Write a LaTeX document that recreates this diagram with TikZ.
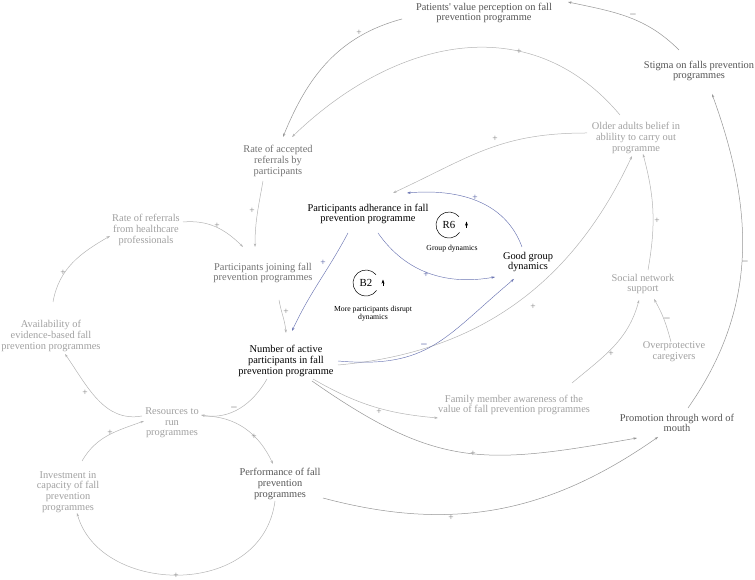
\documentclass[tikz,border=0pt]{standalone}
\usepackage{fontspec}
\setmainfont{Liberation Serif}[Ligatures=TeXOff]
\usetikzlibrary{arrows.meta}
\definecolor{txdark}{HTML}{555555}
\definecolor{txmid}{HTML}{727272}
\definecolor{txlight}{HTML}{A0A0A0}
\definecolor{lnlight}{HTML}{B4B4B4}
\definecolor{lndark}{HTML}{959595}
\definecolor{lnblue}{HTML}{6A74B2}
\definecolor{sgnblue}{HTML}{4E5AA0}
\definecolor{sgngray}{HTML}{808080}
\begin{document}
\begin{tikzpicture}[x=1pt,y=1pt,
  lab/.style={align=center, inner sep=0pt, font=\fontsize{10.4}{10.7}\selectfont},
  blk/.style={lab, text=black},
  dk/.style={lab, text=txdark},
  md/.style={lab, text=txmid},
  lt/.style={lab, text=txlight},
  tip/.style={-{Stealth[length=3.6pt,width=2.4pt]}},
  ge/.style={tip, draw=lnlight, line width=0.5pt},
  gd/.style={tip, draw=lndark, line width=0.5pt},
  gb/.style={tip, draw=lnblue, line width=0.45pt},
  pl/.style={inner sep=0pt, text=sgngray, font=\fontsize{9.5}{9.5}\selectfont},
  mi/.style={inner sep=0pt, text=sgngray, font=\fontsize{12}{12}\selectfont},
  plb/.style={pl, text=sgnblue},
  mib/.style={mi, text=sgnblue},
  small/.style={align=center, inner sep=0pt, font=\fontsize{7.7}{8.2}\selectfont},
  loopc/.style={draw=black, line width=0.5pt},
  looptip/.style={-{Stealth[length=4.2pt,width=3pt]}, line width=0.6pt}
]
\useasboundingbox (0,0) rectangle (755,580);

% ---- nodes ----
\node[dk] (pat) at (484,567) {Patients' value perception on fall\\prevention programme};
\node[dk] (stig) at (699,509) {Stigma on falls prevention\\programmes};
\node[lt] (older) at (636,442) {Older adults belief in\\ablility to carry out\\programme};
\node[md] (rateacc) at (278,419) {Rate of accepted\\referrals by\\participants};
\node[blk] (adh) at (368,366) {Participants adherance in fall\\prevention programme};
\node[blk] (good) at (528,318) {Good group\\dynamics};
\node[md] (join) at (263,307) {Participants joining fall\\prevention programmes};
\node[lt] (rref) at (146,350) {Rate of referrals\\from healthcare\\professionals};
\node[lt] (avail) at (51,244) {Availability of\\evidence-based fall\\prevention programmes};
\node[blk] (num) at (286,219) {Number of active\\participants in fall\\prevention programme};
\node[lt] (social) at (643,296) {Social network\\support};
\node[lt] (overp) at (674,228) {Overprotective\\caregivers};
\node[lt] (family) at (514,175) {Family member awareness of the\\value of fall prevention programmes};
\node[dk] (promo) at (677,157) {Promotion through word of\\mouth};
\node[lt] (res) at (172,157) {Resources to\\run\\programmes};
\node[lt] (invest) at (68,88) {Investment in\\capacity of fall\\prevention\\programmes};
\node[dk] (perf) at (280,96) {Performance of fall\\prevention\\programmes};

% ---- loop markers ----
\node[font=\fontsize{10.8}{10.8}\selectfont] (r6) at (449,355) {R6};
\draw[loopc] (r6.center) ++(40:13) arc (40:325:13);
\draw[looptip] ([shift={(17.5,-3)}]r6.center) -- ([shift={(17.5,3.5)}]r6.center);
\node[small] (r6lab) at (452,331) {Group dynamics};

\node[font=\fontsize{10.8}{10.8}\selectfont] (b2) at (366,297) {B2};
\draw[loopc] (b2.center) ++(40:13) arc (40:325:13);
\draw[looptip] ([shift={(17,-3)}]b2.center) -- ([shift={(17,3.5)}]b2.center);
\node[small] (b2lab) at (373,266) {More participants disrupt\\dynamics};

% ---- connectors ----
\draw[gd] ([shift={(-20,21)}]stig.center) to[out=135,in=-12] ([shift={(84,11)}]pat.center);
\draw[gd] ([shift={(-82,-6)}]pat.center) to[out=195,in=68] ([shift={(5,24)}]rateacc.center);
\draw[ge] ([shift={(-16,23)}]older.center) to[out=130,in=44,looseness=1.1] ([shift={(14,24)}]rateacc.center);
\draw[ge] ([shift={(-49,5)}]older.center) to[out=180,in=25,looseness=1.1] ([shift={(25,21)}]adh.center);
\draw[ge] ([shift={(5,14)}]social.center) to[out=80,in=-75] ([shift={(7,-16)}]older.center);
\draw[ge] ([shift={(52,-4)}]num.center) to[out=5,in=-115] ([shift={(-4,-18)}]older.center);
\draw[gb] ([shift={(52,0)}]num.center) to[out=-5,in=-140,looseness=1.2] ([shift={(-14,-17)}]good.center);
\draw[gb] ([shift={(10,-19)}]adh.center) to[out=-55,in=190] ([shift={(-33,-15)}]good.center);
\draw[gb] ([shift={(-6,15)}]good.center) to[out=110,in=5] ([shift={(39,21)}]adh.center);
\draw[gb] ([shift={(-20,-19)}]adh.center) to[out=-118,in=65] ([shift={(6,30)}]num.center);
\draw[ge] ([shift={(-15,-20)}]rateacc.center) to[out=-100,in=90] ([shift={(-8,26)}]join.center);
\draw[ge] ([shift={(37,8)}]rref.center) to[out=5,in=135] ([shift={(-20,26)}]join.center);
\draw[ge] ([shift={(16,-27)}]join.center) to[out=-80,in=95] ([shift={(0,28)}]num.center);
\draw[ge] ([shift={(2,34)}]avail.center) to[out=80,in=210] ([shift={(-36,-6)}]rref.center);
\draw[ge] ([shift={(-30,7)}]res.center) to[out=190,in=-55] ([shift={(14,-18)}]avail.center);
\draw[ge] ([shift={(-19,-18)}]num.center) to[out=-120,in=-10] ([shift={(29,8)}]res.center);
\draw[ge] ([shift={(31,7)}]res.center) to[out=0,in=115] ([shift={(-7,20)}]perf.center);
\draw[ge] ([shift={(14,31)}]invest.center) to[out=60,in=200] ([shift={(-28,2)}]res.center);
\draw[ge] ([shift={(-5,-17)}]perf.center) .. controls (262,-20) and (100,-15) .. ([shift={(9,-21)}]invest.center);
\draw[gd] ([shift={(43,-14)}]perf.center) to[out=-15,in=-145] ([shift={(-19,-14)}]promo.center);
\draw[gd] ([shift={(26,-20)}]num.center) to[out=-35,in=-170,looseness=1.2] ([shift={(-40,-15)}]promo.center);
\draw[ge] ([shift={(27,-18)}]num.center) to[out=-30,in=175] ([shift={(-76,-13)}]family.center);
\draw[ge] ([shift={(58,22)}]family.center) to[out=40,in=-105] ([shift={(-4,-16)}]social.center);
\draw[ge] ([shift={(-3,10)}]overp.center) to[out=105,in=-60] ([shift={(11,-15)}]social.center);
\draw[gd] ([shift={(11,15)}]promo.center) to[out=55,in=-70] ([shift={(13,-23)}]stig.center);

% ---- polarity signs ----
\node[mi] (s1) at (633,564) {−};
\node[pl] (s2) at (359,547) {+};
\node[pl] (s3) at (519,528) {+};
\node[pl] (s4) at (495,441) {+};
\node[pl] (s5) at (657,359) {+};
\node[pl] (s6) at (533,273) {+};
\node[mib] (s7) at (424,234) {−};
\node[plb] (s8) at (426,305) {+};
\node[plb] (s9) at (475,382) {+};
\node[plb] (s10) at (323,317) {+};
\node[pl] (s11) at (252,369) {+};
\node[pl] (s12) at (217,354) {+};
\node[pl] (s13) at (286,268) {+};
\node[pl] (s14) at (63,307) {+};
\node[pl] (s15) at (85,187) {+};
\node[mi] (s16) at (234,171) {−};
\node[pl] (s17) at (254,143) {+};
\node[pl] (s18) at (110,147) {+};
\node[pl] (s19) at (176,4) {+};
\node[pl] (s20) at (451,62) {+};
\node[pl] (s21) at (473,126) {+};
\node[pl] (s22) at (379,168) {+};
\node[pl] (s23) at (611,226) {+};
\node[mi] (s24) at (667,260) {−};
\node[mi] (s25) at (745,317) {−};
\end{tikzpicture}
\end{document}
